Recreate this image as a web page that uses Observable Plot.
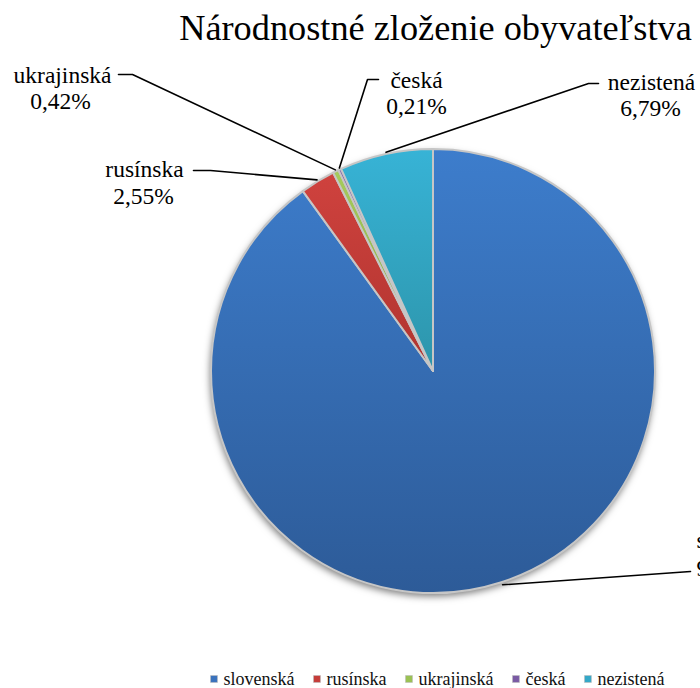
<!DOCTYPE html>
<html>
<head>
<meta charset="utf-8">
<script src="https://cdn.jsdelivr.net/npm/d3@7"></script>
<script src="https://cdn.jsdelivr.net/npm/@observablehq/plot@0.6"></script>
<style>
  html, body { margin: 0; padding: 0; background: #fff; }
  svg text { font-family: "Liberation Serif", "Times New Roman", serif; }
</style>
</head>
<body>
<div id="chart"></div>
<script>
// ---------- data ----------
const title = "Národnostné zloženie obyvateľstva";
const categories = ["slovenská", "rusínska", "ukrajinská", "česká", "nezistená"];
const shares = [90.03, 2.55, 0.42, 0.21, 6.79];
const valueLabels = ["90,03%", "2,55%", "0,42%", "0,21%", "6,79%"];

// ---------- styles ----------
const serif = "Liberation Serif";
const colorTop    = ["#3d7dcc", "#cf423e", "#a6cb5c", "#8664b0", "#37b3d6"];
const colorBottom = ["#2d5b98", "#b0342f", "#86a845", "#674a8e", "#2d95ab"];
const legendFill  = ["#3a72bd", "#c63c39", "#9bc253", "#7a5aa4", "#33a8c8"];

// ---------- layout (pixels) ----------
const W = 700, H = 688, CX = 433, CY = 371, R = 222;
const ux = px => (px - CX) / R;
const uy = py => (CY - py) / R;
const labelFont = 23.5, legendFont = 18, titleFont = 36.3;
// label block positions (centres of name / value lines) and leader elbows
const labelLayout = [
  {name: [696, 540], value: [696, 568], anchor: "start",  elbows: [[690, 571]]},
  {name: [144, 169], value: [143, 196], anchor: "middle", elbows: [[210, 170], [193, 170]]},
  {name: [62, 75],   value: [60, 101],  anchor: "middle", elbows: [[132, 74], [118, 74]]},
  {name: [416, 80],  value: [416, 106], anchor: "middle", elbows: [[367, 79], [378, 79]]},
  {name: [651, 82],  value: [650, 108], anchor: "middle", elbows: [[588, 83], [598, 83]]}
];

// ---------- derived ----------
const arcs = d3.pie().sort(null).value(d => d)(shares);

const leaderData = [];
arcs.forEach((a, i) => {
  const mid = (a.startAngle + a.endAngle) / 2;
  const rr = 1.01;
  leaderData.push({k: i, x: rr * Math.sin(mid), y: rr * Math.cos(mid)});
  labelLayout[i].elbows.forEach(([px, py]) => leaderData.push({k: i, x: ux(px), y: uy(py)}));
});

const labelRows = [];
categories.forEach((c, i) => {
  const L = labelLayout[i];
  labelRows.push({anchor: L.anchor, x: ux(L.name[0]), y: uy(L.name[1]), text: c});
  labelRows.push({anchor: L.anchor, x: ux(L.value[0]), y: uy(L.value[1]), text: valueLabels[i]});
});

// legend positions measured from the text widths
const ctx = document.createElement("canvas").getContext("2d");
ctx.font = `${legendFont}px '${serif}'`;
const legendRows = [];
let lx = 210;
categories.forEach((c, i) => {
  legendRows.push({i, sx: ux(lx + 3.5), tx: ux(lx + 13), y: uy(679), sy: uy(678.5), text: c});
  lx += 13 + ctx.measureText(c).width + 19;
});

const titleRows = [{x: ux(435), y: uy(28), text: title}];

// ---------- pie mark ----------
function pieMark(index, scales) {
  const {x, y} = scales;
  const cx = x(0), cy = y(0), r = x(1) - x(0);
  const g = d3.create("svg:g");
  const defs = g.append("defs");
  const f = defs.append("filter").attr("id", "pieShadow")
    .attr("x", "-10%").attr("y", "-10%").attr("width", "120%").attr("height", "125%");
  f.append("feDropShadow").attr("dx", -1).attr("dy", 3.5).attr("stdDeviation", 3.5)
    .attr("flood-color", "#000").attr("flood-opacity", 0.5);
  arcs.forEach((a, i) => {
    const lg = defs.append("linearGradient").attr("id", "sliceGrad" + i)
      .attr("x1", 0).attr("y1", 0).attr("x2", 0).attr("y2", 1);
    lg.append("stop").attr("offset", "0%").attr("stop-color", colorTop[i]);
    lg.append("stop").attr("offset", "100%").attr("stop-color", colorBottom[i]);
  });
  g.append("circle").attr("cx", cx).attr("cy", cy).attr("r", r)
    .attr("fill", "#fff").attr("filter", "url(#pieShadow)");
  const arc = d3.arc().innerRadius(0).outerRadius(r);
  g.append("g").attr("transform", `translate(${cx},${cy})`)
    .selectAll("path").data(arcs).join("path")
    .attr("d", arc)
    .attr("fill", (d, i) => `url(#sliceGrad${i})`)
    .attr("stroke", "#c6c6c6")
    .attr("stroke-width", 2)
    .attr("stroke-linejoin", "round");
  return g.node();
}

const chart = Plot.plot({
  width: W,
  height: H,
  margin: 0,
  style: {fontFamily: serif, background: "#fff", overflow: "hidden"},
  x: {domain: [ux(0), ux(W)], axis: null},
  y: {domain: [uy(H), uy(0)], axis: null},
  marks: [
    pieMark,
    Plot.line(leaderData, {x: "x", y: "y", z: "k", stroke: "#000", strokeWidth: 1.6}),
    Plot.text(labelRows.filter(d => d.anchor === "middle"), {x: "x", y: "y", text: "text", textAnchor: "middle", fontSize: labelFont, fontFamily: serif, fill: "#000"}),
    Plot.text(labelRows.filter(d => d.anchor === "start"), {x: "x", y: "y", text: "text", textAnchor: "start", fontSize: labelFont, fontFamily: serif, fill: "#000"}),
    Plot.text(titleRows, {x: "x", y: "y", text: "text", textAnchor: "middle", fontSize: titleFont, fontFamily: serif, fill: "#000"}),
    Plot.dot(legendRows, {x: "sx", y: "sy", symbol: "square", r: 3.9, fill: d => legendFill[d.i], stroke: "#bbb", strokeWidth: 0.6}),
    Plot.text(legendRows, {x: "tx", y: "y", text: "text", textAnchor: "start", fontSize: legendFont, fontFamily: serif, fill: "#111"})
  ]
});
document.getElementById("chart").appendChild(chart);
</script>
</body>
</html>
